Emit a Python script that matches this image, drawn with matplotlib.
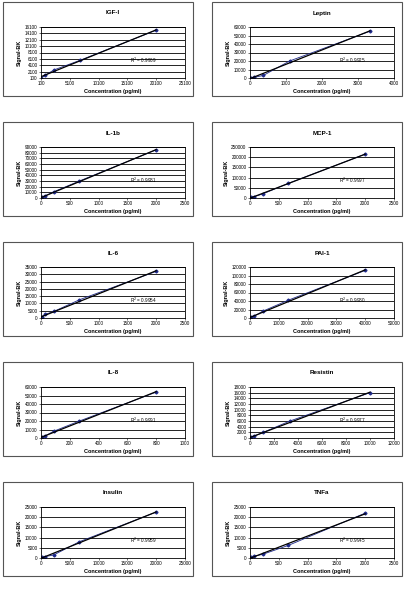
import numpy as np
import matplotlib.pyplot as plt
from matplotlib.patches import Rectangle

# --- DATA ------------------------------------------------------------+
names = ['IGF-I', 'Leptin', 'IL-1b', 'MCP-1', 'IL-6', 'PAI-1', 'IL-8', 'Resistin', 'Insulin', 'TNFa']
conc = [
    [100, 800, 2300, 6800, 20100],
    [0, 40, 120, 370, 1100, 3330],
    [0, 8, 25, 74, 222, 667, 2000],
    [0, 8, 25, 74, 222, 667, 2000],
    [0, 8, 25, 74, 222, 667, 2000],
    [0, 160, 500, 1480, 4440, 13330, 40000],
    [0, 3, 10, 30, 89, 267, 800],
    [0, 40, 120, 370, 1110, 3330, 10000],
    [0, 80, 250, 740, 2220, 6670, 20000],
    [0, 8, 25, 74, 222, 667, 2000],
]
signal = [
    [100, 900, 2600, 5600, 15100],
    [0, 300, 800, 3000, 20000, 55000],
    [0, 400, 1200, 3800, 11000, 30000, 85000],
    [0, 1000, 2500, 6500, 20000, 72000, 215000],
    [0, 300, 900, 2500, 4500, 12500, 32000],
    [0, 600, 1500, 4500, 16000, 42000, 112000],
    [0, 300, 900, 2500, 8000, 20000, 54000],
    [0, 100, 300, 700, 2000, 6000, 16000],
    [0, 100, 300, 700, 1500, 8000, 22500],
    [0, 200, 500, 900, 1800, 6200, 22000],
]
r2 = ['0.9969', '0.9925', '0.9981', '0.9997', '0.9954', '0.9980', '0.9991', '0.9977', '0.9959', '0.9945']
xlims = [(100, 25100), (0, 4000), (0, 2500), (0, 2500), (0, 2500), (0, 50000), (0, 1000), (0, 12000), (0, 25000), (0, 2500)]
xsteps = [5000, 1000, 500, 500, 500, 10000, 200, 2000, 5000, 500]
ylims = [(100, 16100), (0, 60000), (0, 90000), (0, 250000), (0, 35000), (0, 120000), (0, 60000), (0, 18000), (0, 25000), (0, 25000)]
ysteps = [2000, 10000, 10000, 50000, 5000, 20000, 10000, 2000, 5000, 5000]
ylabels = ['Signal-BK'] * 10
ylabels[0] = 'Signal-BK'

W, H = 408, 600
fig = plt.figure(figsize=(4.08, 6.0), dpi=100)
plt.rcParams['font.family'] = 'Liberation Sans'

row_tops = [2, 122, 242, 362, 482]
col_lefts = [3, 212]
box_w, box_h = 190, 94

for i, name in enumerate(names):
    r, c = divmod(i, 2)
    bx, by = col_lefts[c], row_tops[r]
    # panel frame
    fig.patches.append(Rectangle((bx / W, 1 - (by + box_h) / H), box_w / W, box_h / H,
                                 transform=fig.transFigure, fill=False, edgecolor='#555555', lw=0.8))
    ax = fig.add_axes([(bx + 38) / W, 1 - (by + 76) / H, 144 / W, 51 / H])
    x = np.array(conc[i], float)
    y = np.array(signal[i], float)
    ax.plot(x, y, color='#1f2a8a', lw=0.6, marker='D', ms=1.5)
    k, b = np.polyfit(x, y, 1)
    xx = np.array([x.min(), x.max()])
    ax.plot(xx, k * xx + b, color='black', lw=0.9)
    ax.set_xlim(*xlims[i])
    ax.set_ylim(*ylims[i])
    ax.set_xticks(np.arange(xlims[i][0], xlims[i][1] + 1, xsteps[i]))
    ax.set_yticks(np.arange(ylims[i][0], ylims[i][1] + 1, ysteps[i]))
    ax.grid(axis='y', color='black', lw=0.6)
    ax.tick_params(labelsize=3.3, length=1.5, width=0.4, pad=1)
    for s in ax.spines.values():
        s.set_linewidth(0.6)
    ax.set_title(name, fontsize=4.5, fontweight='bold', pad=9)
    ax.set_xlabel('Concentration (pg/ml)', fontsize=4, fontweight='bold', labelpad=2)
    ax.set_ylabel(ylabels[i], fontsize=4, fontweight='bold', labelpad=2)
    ax.text(0.62, 0.3, 'R$^2$ = ' + r2[i], transform=ax.transAxes, fontsize=3.3)

fig.savefig('out.png', dpi=100)
